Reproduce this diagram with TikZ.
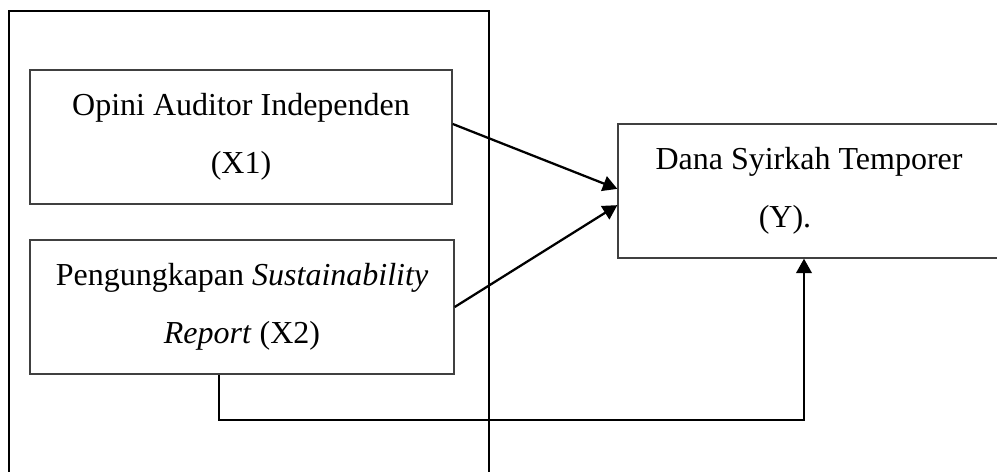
\documentclass[tikz,border=0pt]{standalone}
\usepackage{fontspec}
\setmainfont{Liberation Serif}
\usetikzlibrary{arrows.meta}

\begin{document}
\begin{tikzpicture}[x=0.375pt, y=-0.375pt, >={Triangle[length=5.4pt,width=5.8pt]},
	var/.style={draw=black!75, line width=.5pt, inner sep=0pt, minimum height=50.25pt, align=center, font=\fontsize{12}{21.75}\selectfont},
	link/.style={->, line width=.85pt}]
	\useasboundingbox (0,0) rectangle (997,471);
	\clip (0,0) rectangle (997,471);
	\draw[line width=.8pt] (9,480) |- (489,11) -- (489,480);
	\node[var, minimum width=158.25pt] (x1) at (241,137) {Opini Auditor Independen\\(X1)};
	\node[var, minimum width=159pt] (x2) at (242,307) {Pengungkapan \textit{Sustainability}\\\textit{Report} (X2)};
	\node[var, minimum width=143.25pt] (y) at (809,191) {Dana Syirkah Temporer\\(Y).\hspace*{18pt}};
	\coordinate (bend) at (804,420);
	\draw[link] ([yshift=4.9pt]x1.east) -- ([yshift=.8pt]y.west);
	\draw[link] (x2.east) -- ([yshift=-5.3pt]y.west);
	\draw[link] ([xshift=-8.6pt]x2.south) |- (bend) -- (bend |- y.south);
\end{tikzpicture}
\end{document}
